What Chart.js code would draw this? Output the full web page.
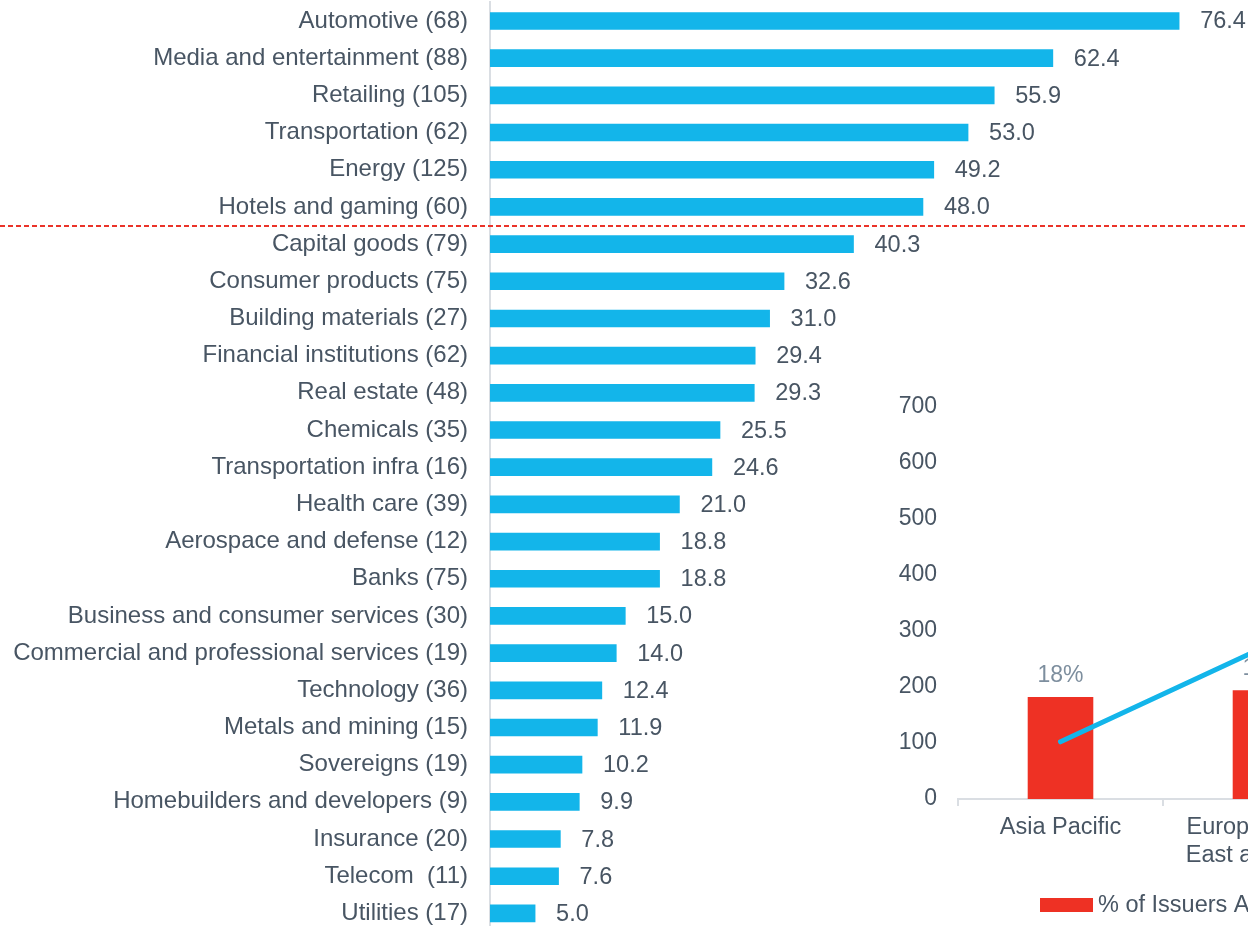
<!DOCTYPE html>
<html>
<head>
<meta charset="utf-8">
<script src="https://cdn.jsdelivr.net/npm/chart.js@4/dist/chart.umd.min.js"></script>
<style>
  html, body { margin: 0; padding: 0; width: 1248px; height: 926px; overflow: hidden; background: #ffffff; }
  #main { position: absolute; left: 0; top: 0; width: 1248px; height: 932px; }
  #inset { position: absolute; left: 890px; top: 391px; width: 478px; height: 535px; }
</style>
</head>
<body>
<div id="main"><canvas id="mainCanvas"></canvas></div>
<div id="inset"><canvas id="insetCanvas"></canvas></div>
<script>
// ---- Main chart data ----
const sectors = ['Automotive (68)', 'Media and entertainment (88)', 'Retailing (105)', 'Transportation (62)',
  'Energy (125)', 'Hotels and gaming (60)', 'Capital goods (79)', 'Consumer products (75)',
  'Building materials (27)', 'Financial institutions (62)', 'Real estate (48)', 'Chemicals (35)',
  'Transportation infra (16)', 'Health care (39)', 'Aerospace and defense (12)', 'Banks (75)',
  'Business and consumer services (30)', 'Commercial and professional services (19)', 'Technology (36)',
  'Metals and mining (15)', 'Sovereigns (19)', 'Homebuilders and developers (9)', 'Insurance (20)',
  'Telecom  (11)', 'Utilities (17)'];
const sectorValues = [76.4, 62.4, 55.9, 53.0, 49.2, 48.0, 40.3, 32.6, 31.0, 29.4, 29.3, 25.5, 24.6,
  21.0, 18.8, 18.8, 15.0, 14.0, 12.4, 11.9, 10.2, 9.9, 7.8, 7.6, 5.0];
const dividerAfter = 'Hotels and gaming (60)';

// ---- Inset chart data ----
const regions = ['Asia Pacific', ['Europe, Middle', 'East and Africa']];
const issuerPct = [18.2, 19.4];
const issuerCount = [102, 272];
const countTicks = [0, 100, 200, 300, 400, 500, 600, 700];
const legendLabel = '% of Issuers Affected';

const TEXT = '#485563';
const FAMILY = '"Liberation Sans", Arial, sans-serif';

const mainLabels = {
  id: 'mainLabels',
  afterDatasetsDraw(chart) {
    const ctx = chart.ctx;
    const meta = chart.getDatasetMeta(0);
    ctx.save();
    ctx.font = '23.5px ' + FAMILY;
    ctx.fillStyle = TEXT;
    ctx.textAlign = 'left';
    ctx.textBaseline = 'middle';
    meta.data.forEach((bar, i) => {
      ctx.fillText(sectorValues[i].toFixed(1), bar.x + 21, bar.y + 1);
    });
    // dashed divider
    const ys = chart.scales.y;
    const idx = sectors.indexOf(dividerAfter);
    const yPos = (ys.getPixelForValue(idx) + ys.getPixelForValue(idx + 1)) / 2 + 0.5;
    ctx.strokeStyle = '#ea3329';
    ctx.lineWidth = 2;
    ctx.setLineDash([5, 3]);
    ctx.beginPath();
    ctx.moveTo(0, yPos);
    ctx.lineTo(chart.width, yPos);
    ctx.stroke();
    ctx.restore();
  }
};

new Chart(document.getElementById('mainCanvas'), {
  type: 'bar',
  data: {
    labels: sectors,
    datasets: [{ data: sectorValues, backgroundColor: '#13b5ea', barThickness: 17, borderWidth: 0 }]
  },
  options: {
    indexAxis: 'y',
    responsive: true,
    maintainAspectRatio: false,
    animation: false,
    layout: { padding: { top: 2.4, right: 36.4, bottom: 0, left: 0 } },
    plugins: { legend: { display: false }, tooltip: { enabled: false } },
    scales: {
      x: { display: false, min: 0, max: 80 },
      y: {
        afterFit(scale) { scale.width = 490; scale.paddingTop = 0; scale.paddingBottom = 0; },
        grid: { display: false, drawTicks: false },
        border: { display: true, color: '#dadee3', width: 2 },
        ticks: { color: TEXT, font: { family: FAMILY, size: 24 }, padding: 22, autoSkip: false }
      }
    }
  },
  plugins: [mainLabels]
});

const insetExtras = {
  id: 'insetExtras',
  afterDatasetsDraw(chart) {
    const ctx = chart.ctx;
    const meta = chart.getDatasetMeta(1);
    ctx.save();
    ctx.font = '23px ' + FAMILY;
    ctx.fillStyle = '#7d8e9e';
    ctx.textAlign = 'center';
    ctx.textBaseline = 'bottom';
    meta.data.forEach((bar, i) => {
      ctx.fillText(Math.round(issuerPct[i]) + '%', bar.x, bar.y - 10);
    });
    // legend
    const ca = chart.chartArea;
    const lx = ca.left + 82, ly = ca.bottom + 106;
    ctx.fillStyle = '#ee3124';
    ctx.fillRect(lx, ly - 7, 53, 14);
    ctx.fillStyle = TEXT;
    ctx.textAlign = 'left';
    ctx.textBaseline = 'middle';
    ctx.font = '23.5px ' + FAMILY;
    ctx.fillText(legendLabel, lx + 58, ly + 1);
    ctx.restore();
  }
};

new Chart(document.getElementById('insetCanvas'), {
  data: {
    labels: regions,
    datasets: [
      { type: 'line', data: issuerCount, yAxisID: 'y', borderColor: '#13b5ea', borderWidth: 5,
        borderCapStyle: 'round', pointRadius: 0, order: 0 },
      { type: 'bar', data: issuerPct, yAxisID: 'y1', backgroundColor: '#ee3124',
        barPercentage: 0.64, categoryPercentage: 0.5, order: 1 }
    ]
  },
  options: {
    responsive: true,
    maintainAspectRatio: false,
    animation: false,
    layout: { padding: { top: 15.5, right: 0, bottom: 47, left: 0 } },
    plugins: { legend: { display: false }, tooltip: { enabled: false } },
    scales: {
      x: {
        afterFit(scale) { scale.height = 80; },
        offset: true,
        grid: { display: true, drawOnChartArea: false, drawTicks: true, tickLength: 7, offset: true, color: '#dadee3', lineWidth: 2 },
        border: { display: true, color: '#dadee3', width: 2 },
        ticks: { color: TEXT, font: { family: FAMILY, size: 23.5, lineHeight: 1.2 }, padding: 7, maxRotation: 0 }
      },
      y: {
        min: 0, max: 700,
        afterFit(scale) { scale.width = 68; scale.paddingTop = 0; scale.paddingBottom = 0; },
        afterBuildTicks(scale) { scale.ticks = countTicks.map(v => ({ value: v })); },
        grid: { display: false, drawTicks: false },
        border: { display: false },
        ticks: { color: TEXT, font: { family: FAMILY, size: 23 }, padding: 21 }
      },
      y1: { display: false, min: 0, max: 70, position: 'right' }
    }
  },
  plugins: [insetExtras]
});
</script>
</body>
</html>
